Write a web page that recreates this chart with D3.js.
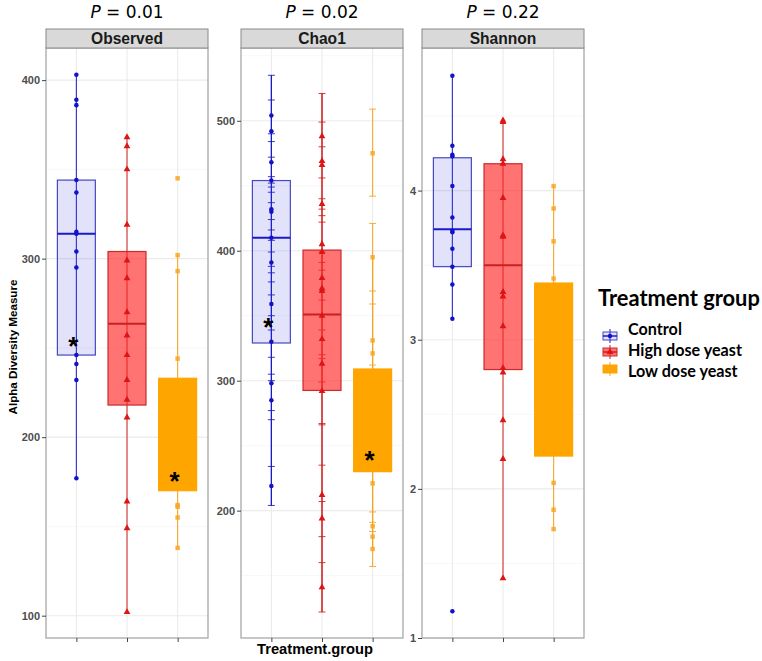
<!DOCTYPE html>
<html><head><meta charset="utf-8">
<script src="https://cdn.jsdelivr.net/npm/d3@7"></script>
<style>body{margin:0;background:#fff}</style>
</head><body>
<svg id="chart" width="762" height="661"></svg>
<script>
// ---------------- data ----------------
const measures = ["Observed", "Chao1", "Shannon"];
const pValues = ["0.01", "0.02", "0.22"];
const groups = ["Control", "High dose yeast", "Low dose yeast"];

const observedTicks = [100, 200, 300, 400];
const chao1Ticks = [200, 300, 400, 500];
const shannonTicks = [1, 2, 3, 4];

// box stats: [lower whisker, q1, median, q3, upper whisker]
const observedBox = [[177, 246, 314, 344, 403], [102, 218, 263.5, 304, 368], [138, 170, 200, 233, 302]];
const chao1Box = [[204, 329, 410, 454, 535], [122, 292.5, 351, 400.5, 521], [170.5, 230, 270, 309, 395]];
const shannonBox = [[3.14, 3.49, 3.74, 4.22, 4.77], [1.40, 2.80, 3.50, 4.18, 4.47], [1.73, 2.22, 2.80, 3.38, 4.03]];

const observedControl = [403, 389, 386, 344, 337, 315, 314, 304, 295, 246, 241, 232, 177];
const observedHigh = [368, 363, 350, 319, 299, 289, 270, 257, 246, 232, 221, 211, 164, 149, 102];
const observedLow = [345, 302, 293, 244, 162, 161, 155, 138];

const chao1Control = [504, 492, 468, 454, 432, 430, 410, 391, 359, 330, 298, 285, 219];
const chao1High = [488, 469, 466, 436, 405, 399, 379, 371, 369, 350, 332, 313, 292, 212, 194, 141];
const chao1Low = [475, 395, 331, 321, 221, 188, 180, 170.5];

// Chao1 standard-error bar caps and their vertical spans
const chao1ControlCaps = [535, 516, 490, 484, 472, 457, 452, 449, 445, 437, 424, 416, 408, 399, 388, 383, 376, 366, 350, 339, 318, 305, 300, 277, 270, 234, 204];
const chao1HighCaps = [521, 499, 480, 456, 440, 432, 427, 422, 399, 391, 385, 362, 339, 320, 317, 299, 267, 266, 235, 207, 180, 160, 122];
const chao1LowCaps = [509, 442, 421, 369, 359, 312, 199, 191, 184, 157];
const chao1Spans = [[[204, 535]], [[122, 521]], [[157, 421], [442, 509]]];

const shannonControl = [4.77, 4.30, 4.24, 4.23, 4.03, 3.82, 3.73, 3.72, 3.61, 3.49, 3.37, 3.14, 1.18];
const shannonHigh = [4.47, 4.46, 4.21, 4.18, 3.95, 3.70, 3.69, 3.32, 3.29, 3.09, 2.81, 2.78, 2.46, 2.20, 1.40];
const shannonLow = [4.03, 3.88, 3.66, 3.41, 2.04, 1.86, 1.73];

const observedMeans = [254, null, 178];
const chao1Means = [345, null, 243];
const shannonMeans = [null, null, null];

// ---------------- styling / layout ----------------
const W = 762, H = 661;
const panelTop = 48, panelBottom = 638, stripTop = 29;
const panelLeft = [46, 241, 422], panelWidth = 162;
const yDomains = [[87.5, 418], [102, 556], [1, 4.956]];
const stroke = ["#1a1ac8", "#cc1f1f", "#f7a21b"];
const fill = ["rgba(60,60,230,0.15)", "rgba(255,40,40,0.65)", "#ffa500"];
const boxStroke = ["#4848c0", "#cc2a2a", "#ffa500"];
const pointColor = ["#1212c8", "#dd1515", "rgba(247,166,30,0.85)"];
const shapes = [d3.symbolCircle, d3.symbolTriangle, d3.symbolSquare];
const shapeSize = [16, 20, 20];

const panelsData = [
  {box: observedBox, pts: [observedControl, observedHigh, observedLow], ticks: observedTicks, means: observedMeans, caps: null},
  {box: chao1Box, pts: [chao1Control, chao1High, chao1Low], ticks: chao1Ticks, means: chao1Means, caps: [chao1ControlCaps, chao1HighCaps, chao1LowCaps], spans: chao1Spans},
  {box: shannonBox, pts: [shannonControl, shannonHigh, shannonLow], ticks: shannonTicks, means: shannonMeans, caps: null}
];

const svg = d3.select("#chart");
svg.append("rect").attr("width", W).attr("height", H).attr("fill", "#fff");

function fitText(sel, target) {
  const node = sel.node();
  const len = node.getComputedTextLength();
  const fs = parseFloat(sel.attr("font-size"));
  if (len > 0) sel.attr("font-size", (fs * target / len).toFixed(2));
}

let stripSize = null;
measures.forEach((m, i) => {
  const pd = panelsData[i];
  const x0 = panelLeft[i];
  const g = svg.append("g");
  const x = d3.scalePoint().domain(groups).range([x0, x0 + panelWidth]).padding(0.6);
  const step = x.step();
  const bw = step * 0.75;
  const y = d3.scaleLinear().domain(yDomains[i]).range([panelBottom, panelTop]);

  // grid
  const t = pd.ticks, d = t[1] - t[0];
  const minors = [t[0] - d / 2, ...t.map(v => v + d / 2)].filter(v => v > yDomains[i][0] && v < yDomains[i][1]);
  g.selectAll(".minor").data(minors).enter().append("line")
    .attr("x1", x0).attr("x2", x0 + panelWidth).attr("y1", d => y(d)).attr("y2", d => y(d))
    .attr("stroke", "#f3f3f3").attr("stroke-width", 0.7);
  g.selectAll(".major").data(t.filter(v => v >= yDomains[i][0])).enter().append("line")
    .attr("x1", x0).attr("x2", x0 + panelWidth).attr("y1", d => y(d)).attr("y2", d => y(d))
    .attr("stroke", "#ebebeb").attr("stroke-width", 1.1);
  g.selectAll(".vgrid").data(groups).enter().append("line")
    .attr("x1", d => x(d)).attr("x2", d => x(d)).attr("y1", panelTop).attr("y2", panelBottom)
    .attr("stroke", "#ebebeb").attr("stroke-width", 1.1);

  groups.forEach((grp, k) => {
    const cx = x(grp);
    const b = pd.box[k];
    const spans = pd.spans ? pd.spans[k] : [[b[0], b[4]]];
    spans.forEach(s => {
      g.append("line").attr("x1", cx).attr("x2", cx).attr("y1", y(s[0])).attr("y2", y(s[1]))
        .attr("stroke", stroke[k]).attr("stroke-width", 1.1).attr("opacity", 0.9);
    });
    if (pd.spans) {
      g.append("line").attr("x1", cx).attr("x2", cx).attr("y1", y(b[0])).attr("y2", y(b[4]))
        .attr("stroke", stroke[k]).attr("stroke-width", 1.1);
    }
    if (pd.caps) {
      g.selectAll(null).data(pd.caps[k]).enter().append("line")
        .attr("x1", cx - 3.5).attr("x2", cx + 3.5).attr("y1", v => y(v)).attr("y2", v => y(v))
        .attr("stroke", stroke[k]).attr("stroke-width", 1).attr("opacity", 0.85);
    }
    g.append("rect").attr("x", cx - bw / 2).attr("width", bw)
      .attr("y", y(b[3])).attr("height", y(b[1]) - y(b[3]))
      .attr("fill", fill[k]).attr("stroke", boxStroke[k]).attr("stroke-width", 1.2);
    g.append("line").attr("x1", cx - bw / 2).attr("x2", cx + bw / 2).attr("y1", y(b[2])).attr("y2", y(b[2]))
      .attr("stroke", k === 2 ? "#ffa500" : stroke[k]).attr("stroke-width", 2);
    g.selectAll(null).data(pd.pts[k]).enter().append("path")
      .attr("d", d3.symbol().type(shapes[k]).size(shapeSize[k]))
      .attr("transform", v => `translate(${cx},${y(v)})`)
      .attr("fill", pointColor[k]);
    if (pd.means[k] != null) {
      g.append("text").attr("x", cx - 3).attr("y", y(pd.means[k]) + 14)
        .attr("text-anchor", "middle").attr("font-family", "Liberation Sans, Arial, sans-serif")
        .attr("font-weight", "bold").attr("font-size", 26).attr("fill", "#000").text("*");
    }
  });

  g.append("rect").attr("x", x0).attr("y", panelTop).attr("width", panelWidth).attr("height", panelBottom - panelTop)
    .attr("fill", "none").attr("stroke", "#a8a8a8").attr("stroke-width", 1.3);
  g.append("rect").attr("x", x0).attr("y", stripTop).attr("width", panelWidth).attr("height", panelTop - stripTop)
    .attr("fill", "#d9d9d9").attr("stroke", "#8a8a8a").attr("stroke-width", 1);
  const st = g.append("text").attr("x", x0 + panelWidth / 2).attr("y", stripTop + 14.5)
    .attr("text-anchor", "middle").attr("font-family", "Liberation Sans, Arial, sans-serif")
    .attr("font-weight", "bold").attr("font-size", 13).attr("fill", "#1a1a1a").text(m);
  if (i === 0) { fitText(st, 72); stripSize = st.attr("font-size"); } else st.attr("font-size", stripSize);

  const pt = g.append("text").attr("x", x0 + panelWidth / 2).attr("y", 18)
    .attr("text-anchor", "middle").attr("font-family", "'DejaVu Sans', sans-serif")
    .attr("font-size", 17).attr("fill", "#000");
  pt.append("tspan").attr("font-style", "italic").text("P");
  pt.append("tspan").text(" = " + pValues[i]);

  const ya = d3.axisLeft(y).tickValues(t).tickSize(4).tickPadding(2).tickFormat(d3.format("d"));
  const ag = g.append("g").attr("transform", `translate(${x0},0)`).call(ya);
  ag.select(".domain").remove();
  ag.selectAll(".tick line").attr("stroke", "#444");
  ag.selectAll(".tick text").attr("font-family", "Liberation Sans, Arial, sans-serif")
    .attr("font-weight", "bold").attr("font-size", 11).attr("fill", "#4d4d4d");
  const xa = d3.axisBottom(x).tickSize(4).tickFormat("");
  const xg = g.append("g").attr("transform", `translate(0,${panelBottom})`).call(xa);
  xg.select(".domain").remove();
  xg.selectAll(".tick line").attr("stroke", "#444");
});

const yt = svg.append("text").attr("transform", "translate(17,347) rotate(-90)")
  .attr("text-anchor", "middle").attr("font-family", "'Liberation Sans Narrow', 'Liberation Sans', Arial, sans-serif")
  .attr("font-weight", "bold").attr("font-size", 13).attr("fill", "#000").text("Alpha Diversity Measure");
fitText(yt, 135);
const xt = svg.append("text").attr("x", 315).attr("y", 654)
  .attr("text-anchor", "middle").attr("font-family", "Liberation Sans, Arial, sans-serif")
  .attr("font-weight", "bold").attr("font-size", 13).attr("fill", "#000").text("Treatment.group");
fitText(xt, 116);

const lg = svg.append("g");
const lt = lg.append("text").attr("x", 598).attr("y", 306)
  .attr("font-family", "Lato, 'Open Sans', sans-serif").attr("font-weight", "bold")
  .attr("font-size", 22).attr("fill", "#000").text("Treatment group");
fitText(lt, 162);
const keyY = [336, 352, 369];
const textY = [335, 356, 377];
groups.forEach((grp, k) => {
  const kx = 610, ky = keyY[k];
  lg.append("line").attr("x1", kx).attr("x2", kx).attr("y1", ky - 7).attr("y2", ky + 7)
    .attr("stroke", stroke[k]).attr("stroke-width", 1);
  lg.append("rect").attr("x", kx - 7).attr("y", ky - 4).attr("width", 14).attr("height", 8)
    .attr("fill", fill[k]).attr("stroke", boxStroke[k]).attr("stroke-width", 1);
  lg.append("line").attr("x1", kx - 7).attr("x2", kx + 7).attr("y1", ky).attr("y2", ky)
    .attr("stroke", k === 2 ? "#ffa500" : stroke[k]).attr("stroke-width", 1.5);
  lg.append("path").attr("d", d3.symbol().type(shapes[k]).size(shapeSize[k]))
    .attr("transform", `translate(${kx},${ky})`).attr("fill", pointColor[k]);
  const tx = lg.append("text").attr("x", 628).attr("y", textY[k])
    .attr("font-family", "Lato, 'Open Sans', sans-serif").attr("font-weight", "bold")
    .attr("font-size", 17).attr("fill", "#000").text(grp);
  if (k === 1) fitText(tx, 114);
});
const sizes = lg.selectAll("text").filter((d, i) => i > 0).nodes().map(n => n.getAttribute("font-size"));
lg.selectAll("text").filter((d, i) => i > 0).attr("font-size", sizes[1]);
</script>
</body></html>
